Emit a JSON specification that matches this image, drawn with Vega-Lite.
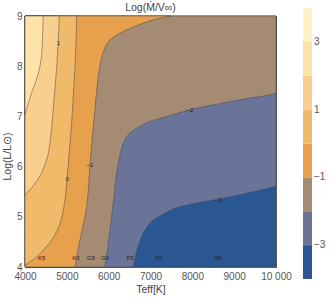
{
  "$schema": "https://vega.github.io/schema/vega-lite/v6.json",
  "width": 251,
  "height": 251,
  "autosize": {"type": "none"},
  "padding": {"left": 25, "top": 16, "right": 56, "bottom": 32},
  "background": "white",
  "title": {"text": "Log(Ṁ/V∞)", "fontSize": 10.5, "fontWeight": "normal", "color": "#444", "font": "Liberation Sans", "frame": "group", "anchor": "middle", "offset": 3, "dy": 8},
  "datasets": {
    "regions": [
      {"k": -4, "c": -3.5, "L": 4, "T": 10000},
      {"k": -4, "c": -3.5, "L": 9, "T": 10000},
      {"k": -3, "c": -2.5, "L": 4.0, "T": 6590},
      {"k": -3, "c": -2.5, "L": 4.25, "T": 6650},
      {"k": -3, "c": -2.5, "L": 4.5, "T": 6740},
      {"k": -3, "c": -2.5, "L": 4.75, "T": 6880},
      {"k": -3, "c": -2.5, "L": 4.92, "T": 7050},
      {"k": -3, "c": -2.5, "L": 5.05, "T": 7300},
      {"k": -3, "c": -2.5, "L": 5.2, "T": 7700},
      {"k": -3, "c": -2.5, "L": 5.28, "T": 8150},
      {"k": -3, "c": -2.5, "L": 5.35, "T": 8600},
      {"k": -3, "c": -2.5, "L": 5.45, "T": 9200},
      {"k": -3, "c": -2.5, "L": 5.55, "T": 9700},
      {"k": -3, "c": -2.5, "L": 5.62, "T": 10000},
      {"k": -3, "c": -2.5, "L": 9, "T": 10000},
      {"k": -2, "c": -1.5, "L": 4.0, "T": 5910},
      {"k": -2, "c": -1.5, "L": 4.34, "T": 5970},
      {"k": -2, "c": -1.5, "L": 4.74, "T": 6030},
      {"k": -2, "c": -1.5, "L": 5.14, "T": 6090},
      {"k": -2, "c": -1.5, "L": 5.5, "T": 6140},
      {"k": -2, "c": -1.5, "L": 5.8, "T": 6180},
      {"k": -2, "c": -1.5, "L": 6.2, "T": 6260},
      {"k": -2, "c": -1.5, "L": 6.4, "T": 6320},
      {"k": -2, "c": -1.5, "L": 6.55, "T": 6400},
      {"k": -2, "c": -1.5, "L": 6.67, "T": 6510},
      {"k": -2, "c": -1.5, "L": 6.8, "T": 6750},
      {"k": -2, "c": -1.5, "L": 6.9, "T": 6990},
      {"k": -2, "c": -1.5, "L": 7.0, "T": 7400},
      {"k": -2, "c": -1.5, "L": 7.13, "T": 7944},
      {"k": -2, "c": -1.5, "L": 7.31, "T": 9000},
      {"k": -2, "c": -1.5, "L": 7.48, "T": 10000},
      {"k": -2, "c": -1.5, "L": 9, "T": 10000},
      {"k": -1, "c": -0.5, "L": 4.0, "T": 5195},
      {"k": -1, "c": -0.5, "L": 4.3, "T": 5255},
      {"k": -1, "c": -0.5, "L": 4.54, "T": 5315},
      {"k": -1, "c": -0.5, "L": 5.2, "T": 5474},
      {"k": -1, "c": -0.5, "L": 5.6, "T": 5520},
      {"k": -1, "c": -0.5, "L": 6.03, "T": 5553},
      {"k": -1, "c": -0.5, "L": 6.6, "T": 5610},
      {"k": -1, "c": -0.5, "L": 7.13, "T": 5670},
      {"k": -1, "c": -0.5, "L": 7.6, "T": 5725},
      {"k": -1, "c": -0.5, "L": 8.0, "T": 5790},
      {"k": -1, "c": -0.5, "L": 8.3, "T": 5880},
      {"k": -1, "c": -0.5, "L": 8.52, "T": 6030},
      {"k": -1, "c": -0.5, "L": 8.65, "T": 6250},
      {"k": -1, "c": -0.5, "L": 8.75, "T": 6500},
      {"k": -1, "c": -0.5, "L": 8.85, "T": 6800},
      {"k": -1, "c": -0.5, "L": 8.93, "T": 7100},
      {"k": -1, "c": -0.5, "L": 9.0, "T": 7470},
      {"k": 0, "c": 0.5, "L": 4.04, "T": 4000},
      {"k": 0, "c": 0.5, "L": 4.15, "T": 4200},
      {"k": 0, "c": 0.5, "L": 4.34, "T": 4440},
      {"k": 0, "c": 0.5, "L": 4.55, "T": 4650},
      {"k": 0, "c": 0.5, "L": 4.87, "T": 4840},
      {"k": 0, "c": 0.5, "L": 5.2, "T": 4930},
      {"k": 0, "c": 0.5, "L": 5.75, "T": 5005},
      {"k": 0, "c": 0.5, "L": 6.2, "T": 5050},
      {"k": 0, "c": 0.5, "L": 6.8, "T": 5110},
      {"k": 0, "c": 0.5, "L": 7.5, "T": 5160},
      {"k": 0, "c": 0.5, "L": 8.0, "T": 5195},
      {"k": 0, "c": 0.5, "L": 8.5, "T": 5220},
      {"k": 0, "c": 0.5, "L": 9, "T": 5235},
      {"k": 1, "c": 1.5, "L": 5.43, "T": 4000},
      {"k": 1, "c": 1.5, "L": 5.55, "T": 4130},
      {"k": 1, "c": 1.5, "L": 5.7, "T": 4270},
      {"k": 1, "c": 1.5, "L": 5.85, "T": 4380},
      {"k": 1, "c": 1.5, "L": 6.0, "T": 4460},
      {"k": 1, "c": 1.5, "L": 6.2, "T": 4540},
      {"k": 1, "c": 1.5, "L": 6.5, "T": 4600},
      {"k": 1, "c": 1.5, "L": 7.0, "T": 4660},
      {"k": 1, "c": 1.5, "L": 7.5, "T": 4710},
      {"k": 1, "c": 1.5, "L": 8.0, "T": 4760},
      {"k": 1, "c": 1.5, "L": 8.5, "T": 4795},
      {"k": 1, "c": 1.5, "L": 9, "T": 4820},
      {"k": 2, "c": 2.5, "L": 7.05, "T": 4000},
      {"k": 2, "c": 2.5, "L": 7.2, "T": 4060},
      {"k": 2, "c": 2.5, "L": 7.35, "T": 4110},
      {"k": 2, "c": 2.5, "L": 7.5, "T": 4170},
      {"k": 2, "c": 2.5, "L": 7.7, "T": 4260},
      {"k": 2, "c": 2.5, "L": 7.9, "T": 4330},
      {"k": 2, "c": 2.5, "L": 8.1, "T": 4380},
      {"k": 2, "c": 2.5, "L": 8.4, "T": 4410},
      {"k": 2, "c": 2.5, "L": 8.7, "T": 4425},
      {"k": 2, "c": 2.5, "L": 9, "T": 4435}
    ],
    "contourLabels": [
      {"T": 4796, "L": 8.46, "t": "1"},
      {"T": 5010, "L": 5.75, "t": "0"},
      {"T": 5553, "L": 6.03, "t": "−1"},
      {"T": 7944, "L": 7.13, "t": "−2"},
      {"T": 8620, "L": 5.33, "t": "−3"}
    ],
    "spectral": [
      {"T": 4400, "L": 4.18, "t": "K5"},
      {"T": 5220, "L": 4.18, "t": "K0"},
      {"T": 5580, "L": 4.18, "t": "G5"},
      {"T": 5910, "L": 4.18, "t": "G0"},
      {"T": 6510, "L": 4.18, "t": "F5"},
      {"T": 7200, "L": 4.18, "t": "F0"},
      {"T": 8610, "L": 4.18, "t": "A5"}
    ]
  },
  "encoding": {
    "x": {
      "field": "T", "type": "quantitative", "stack": null,
      "scale": {"domain": [4000, 10000], "nice": false, "zero": false},
      "axis": {"values": [4000, 5000, 6000, 7000, 8000, 9000, 10000], "labelExpr": "datum.value == 10000 ? '10 000' : '' + datum.value", "title": "Teff[K]", "labelFlush": false, "tickSize": -4, "labelPadding": 8, "titlePadding": 3}
    },
    "y": {
      "field": "L", "type": "quantitative",
      "scale": {"domain": [4, 9], "nice": false, "zero": false},
      "axis": {"values": [4, 5, 6, 7, 8, 9], "title": "Log(L/L⊙)", "tickSize": -4, "labelPadding": 7, "titlePadding": 4, "titleY": 140}
    },
    "color": {"field": "c", "type": "quantitative", "scale": {"type": "quantize", "domain": [-4, 4], "nice": false, "zero": false, "range": ["#2a5792", "#6a7499", "#a58a74", "#e7a04c", "#f1b96a", "#f8cf8c", "#fde3a7", "#fef1c3"]}, "legend": {"type": "gradient", "title": null, "labelExpr": "abs(datum.value) % 2 == 1 ? (datum.value < 0 ? '−' + abs(datum.value) : '' + datum.value) : ''"}}
  },
  "layer": [
    {"data": {"name": "regions"}, "transform": [{"filter": "datum.k == -4"}],
     "mark": {"type": "area", "orient": "horizontal", "interpolate": "monotone", "stroke": "#444", "strokeWidth": 0.7, "strokeOpacity": 0.7},
     "encoding": {"x2": {"datum": 4000}}},
    {"data": {"name": "regions"}, "transform": [{"filter": "datum.k == -3"}],
     "mark": {"type": "area", "orient": "horizontal", "interpolate": "monotone", "stroke": "#444", "strokeWidth": 0.7, "strokeOpacity": 0.7},
     "encoding": {"x2": {"datum": 4000}}},
    {"data": {"name": "regions"}, "transform": [{"filter": "datum.k == -2"}],
     "mark": {"type": "area", "orient": "horizontal", "interpolate": "monotone", "stroke": "#444", "strokeWidth": 0.7, "strokeOpacity": 0.7},
     "encoding": {"x2": {"datum": 4000}}},
    {"data": {"name": "regions"}, "transform": [{"filter": "datum.k == -1"}],
     "mark": {"type": "area", "orient": "horizontal", "interpolate": "monotone", "stroke": "#444", "strokeWidth": 0.7, "strokeOpacity": 0.7},
     "encoding": {"x2": {"datum": 4000}}},
    {"data": {"name": "regions"}, "transform": [{"filter": "datum.k == 0"}],
     "mark": {"type": "area", "orient": "horizontal", "interpolate": "monotone", "stroke": "#444", "strokeWidth": 0.7, "strokeOpacity": 0.7},
     "encoding": {"x2": {"datum": 4000}}},
    {"data": {"name": "regions"}, "transform": [{"filter": "datum.k == 1"}],
     "mark": {"type": "area", "orient": "horizontal", "interpolate": "monotone", "stroke": "#444", "strokeWidth": 0.7, "strokeOpacity": 0.7},
     "encoding": {"x2": {"datum": 4000}}},
    {"data": {"name": "regions"}, "transform": [{"filter": "datum.k == 2"}],
     "mark": {"type": "area", "orient": "horizontal", "interpolate": "monotone", "stroke": "#444", "strokeWidth": 0.7, "strokeOpacity": 0.7},
     "encoding": {"x2": {"datum": 4000}}},
    {"data": {"name": "contourLabels"},
     "mark": {"type": "text", "font": "Liberation Sans", "fontSize": 6},
     "encoding": {"text": {"field": "t"}, "color": {"value": "#222"}}},
    {"data": {"name": "spectral"},
     "mark": {"type": "text", "font": "Liberation Sans", "fontSize": 6},
     "encoding": {"text": {"field": "t"}, "color": {"value": "#222"}}}
  ],
  "config": {
    "view": {"stroke": "#666", "strokeWidth": 1},
    "axis": {"labelFont": "Liberation Sans", "labelFontSize": 10, "labelColor": "#555", "titleFont": "Liberation Sans", "titleFontSize": 10.5, "titleFontWeight": "normal", "titleColor": "#444", "grid": false, "domain": false, "tickColor": "#555"},
    "legend": {"orient": "none", "legendX": 278, "legendY": -8, "direction": "vertical", "gradientLength": 271, "gradientThickness": 9, "gradientStrokeWidth": 0, "labelFont": "Liberation Sans", "labelFontSize": 10, "labelColor": "#555", "labelOffset": 4}
  }
}
